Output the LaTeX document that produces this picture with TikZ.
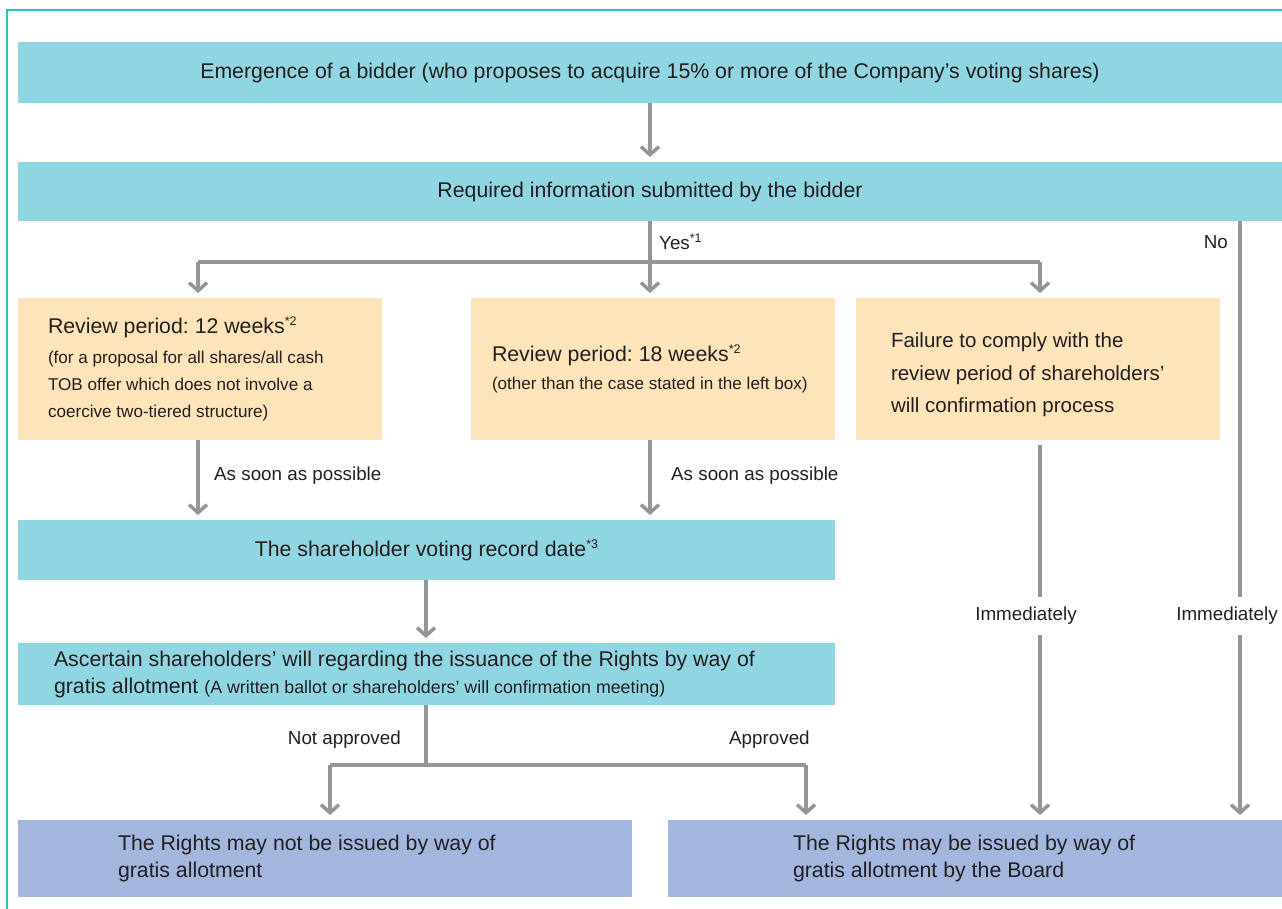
\documentclass[tikz,border=0pt]{standalone}
\usepackage{fontspec}
\setmainfont{Liberation Sans}
\usetikzlibrary{calc, positioning}
\usetikzlibrary{arrows.meta}

\definecolor{framecol}{HTML}{2BC0C9}
\definecolor{cyanfill}{HTML}{8FD6E2}
\definecolor{orangefill}{HTML}{FDE4BA}
\definecolor{bluefill}{HTML}{A3B7DE}
\definecolor{flowgray}{HTML}{939598}
\definecolor{textgray}{HTML}{231F20}

\newcommand{\bigtxt}{\fontsize{21.3}{27}\selectfont\frenchspacing}
\newcommand{\smalltxt}{\fontsize{17.1}{27.5}\selectfont\frenchspacing}
\newcommand{\lbltxt}{\fontsize{18.8}{22}\selectfont}
\newcommand{\note}[1]{\raisebox{0.7ex}{\fontsize{12.5}{13}\selectfont #1}}

\begin{document}
\begin{tikzpicture}[x=1pt,y=-1pt,
  box/.style={inner sep=0pt, outer sep=0pt, anchor=north west, text=textgray, font=\bigtxt},
  cyanbox/.style={box, fill=cyanfill},
  orangebox/.style={box, fill=orangefill, minimum width=364, minimum height=142, align=flush left},
  bluebox/.style={box, fill=bluefill, minimum width=614, minimum height=77, align=flush left},
  flow/.style={line width=3.5pt, draw=flowgray, -{Straight Barb[length=8pt,width=18pt]}, shorten >=5pt},
  trunk/.style={line width=3.5pt, draw=flowgray},
  lbl/.style={text=textgray, font=\lbltxt, inner sep=2pt}]
\useasboundingbox (0,0) rectangle (1282,909);

% frame
\draw[framecol, line width=2pt] (7,909) -- (7,10) -- (1282,10);

% boxes
\node[cyanbox, minimum width=1264, minimum height=61] (emerge) at (18,42)
  {Emergence of a bidder (who proposes to acquire 15\% or more of the Company’s voting shares)};
\node[cyanbox, minimum width=1264, minimum height=59] (required) at (18,162)
  {Required information submitted by the bidder};
\node[orangebox, text width=304, inner xsep=30pt] (revA) at (18,298)
  {{\bigtxt Review period: 12 weeks\note{*2}}\\[2.5pt]
   \smalltxt (for a proposal for all shares/all cash\\ TOB offer which does not involve a\\ coercive two-tiered structure)};
\node[orangebox, text width=322, inner xsep=21pt] (revB) at (471,298)
  {{\bigtxt Review period: 18 weeks\note{*2}}\\[1.5pt]
   \smalltxt (other than the case stated in the left box)};
\node[orangebox, text width=294, inner xsep=35pt, font=\fontsize{20.5}{32.5}\selectfont] (fail) at (856,298)
  {\rule{0pt}{27pt}Failure to comply with the\\ review period of shareholders’\\ will confirmation process};
\node[cyanbox, minimum width=817, minimum height=60] (record) at (18,520)
  {The shareholder voting record date\note{*3}};
\node[cyanbox, minimum width=817, minimum height=62, text width=745, align=flush left, inner xsep=36pt] (ascert) at (18,643)
  {Ascertain shareholders’ will regarding the issuance of the Rights by way of\\
   gratis allotment {\fontsize{17.8}{27}\selectfont (A written ballot or shareholders’ will confirmation meeting)}};
\node[bluebox, text width=414, inner xsep=100pt] (notiss) at (18,820)
  {The Rights may not be issued by way of\\ gratis allotment};
\node[bluebox, text width=364, inner xsep=125pt] (issue) at (668,820)
  {The Rights may be issued by way of\\ gratis allotment by the Board};

% branch points
\coordinate (yes) at (650,262);
\coordinate (vote) at (426,765);
\coordinate (nobr) at (1240,0);
\coordinate (failbr) at (1040,0);
\coordinate (leftbr) at (198,0);
\coordinate (notbr) at (330,765);
\coordinate (appbr) at (806,765);

% arrows
\draw[flow] (emerge.south -| yes) -- (required.north -| yes);
\draw[trunk] (required.south -| yes) -- (yes);
\draw[trunk] (yes -| leftbr) -- (yes -| failbr);
\draw[flow] (yes -| leftbr) -- (leftbr |- revA.north);
\draw[flow] (yes) -- (yes |- revB.north);
\draw[flow] (yes -| failbr) -- (failbr |- fail.north);
\draw[flow] (required.south -| nobr) -- (nobr |- issue.north);
\draw[flow, shorten <=5pt] (fail.south -| failbr) -- (failbr |- issue.north);
\draw[flow] (revA.south -| leftbr) -- (leftbr |- record.north);
\draw[flow] (revB.south -| yes) -- (yes |- record.north);
\draw[flow] (record.south -| vote) -- (vote |- ascert.north);
\draw[trunk] (ascert.south -| vote) -- (vote);
\draw[trunk] (notbr) -- (appbr);
\draw[flow] (notbr) -- (notbr |- notiss.north);
\draw[flow] (appbr) -- (appbr |- issue.north);

% labels
\node[lbl, anchor=west] (yeslbl) at (657,242) {Yes\note{*1}};
\node[lbl, anchor=east] (nolbl) at (1230,242) {No};
\node[lbl, anchor=west] (asapA) at (212,476) {As soon as possible};
\node[lbl, anchor=west] (asapB) at (669,476) {As soon as possible};
\node[lbl, fill=white, inner ysep=10pt] (immedC) at (1026,616) {Immediately};
\node[lbl, fill=white, inner ysep=10pt] (immedN) at (1227,616) {Immediately};
\node[lbl, anchor=east] (notlbl) at (403,740) {Not approved};
\node[lbl, anchor=west] (applbl) at (727,740) {Approved};
\end{tikzpicture}
\end{document}
